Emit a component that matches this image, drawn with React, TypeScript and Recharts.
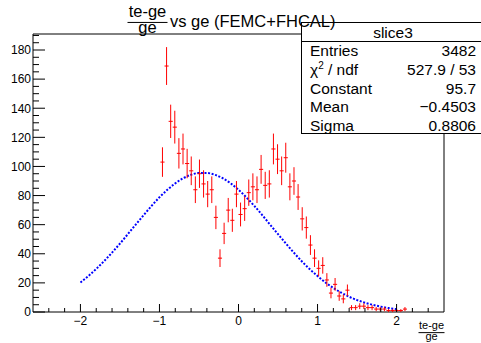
import React from "react";
import { ComposedChart, Scatter, Line, XAxis, YAxis, ErrorBar, ReferenceArea } from "recharts";

// histogram "slice3": bin centres (width 0.052) and contents
const binCenters = [
  -0.962, -0.91, -0.858, -0.806, -0.754, -0.702, -0.65, -0.598, -0.546, -0.494,
  -0.442, -0.39, -0.338, -0.286, -0.234, -0.182, -0.13, -0.078, -0.026, 0.026,
  0.078, 0.13, 0.182, 0.234, 0.286, 0.338, 0.39, 0.442, 0.494, 0.546,
  0.598, 0.65, 0.702, 0.754, 0.806, 0.858, 0.91, 0.962, 1.014, 1.066,
  1.118, 1.17, 1.222, 1.274, 1.326, 1.378, 1.43, 1.482, 1.534, 1.586,
  1.638, 1.69, 1.742, 1.794, 1.846, 1.898, 1.95, 2.002, 2.054, 2.106,
];
const counts = [
  103, 169, 131, 127, 109, 112, 102, 97, 84, 95,
  88, 81, 84, 65, 37, 54, 70, 63, 81, 67,
  71, 82, 86, 84, 98, 87, 88, 112, 105, 97,
  106, 86, 90, 79, 64, 58, 46, 37, 30, 32,
  22, 13, 19, 11, 9, 15, 3, 3, 4, 4,
  3, 3, 2, 2, 2, 1, 1, 1, 1, 2,
];
const binHalfWidth = 0.026;

// gaus fit curve as drawn (-2 .. 2)
const fitX = [
  -2, -1.9, -1.8, -1.7, -1.6, -1.5, -1.4, -1.3, -1.2, -1.1, -1, -0.9, -0.8, -0.7,
  -0.6, -0.5, -0.4, -0.3, -0.2, -0.1, 0, 0.1, 0.2, 0.3, 0.4, 0.5, 0.6, 0.7,
  0.8, 0.9, 1, 1.1, 1.2, 1.3, 1.4, 1.5, 1.6, 1.7, 1.8, 1.9, 2,
];
const fitY = [
  20.3, 24.7, 29.6, 35.0, 40.8, 47.0, 53.5, 60.1, 66.6, 72.9, 78.8, 84.0, 88.4, 91.9,
  94.3, 95.5, 95.5, 94.3, 91.9, 88.4, 84.0, 78.7, 72.9, 66.6, 60.0, 53.5, 47.0, 40.8,
  34.9, 29.5, 24.7, 20.3, 16.5, 13.3, 10.5, 8.2, 6.4, 4.9, 3.7, 2.7, 2.0,
];

const xTicks = [
  -2.4, -2.2, -2, -1.8, -1.6, -1.4, -1.2, -1, -0.8, -0.6, -0.4, -0.2, 0,
  0.2, 0.4, 0.6, 0.8, 1, 1.2, 1.4, 1.6, 1.8, 2, 2.2, 2.4,
];
const xMajorTicks = [-2, -1, 0, 1, 2];
const yTicks = [
  0, 5, 10, 15, 20, 25, 30, 35, 40, 45, 50, 55, 60, 65, 70, 75, 80, 85, 90, 95,
  100, 105, 110, 115, 120, 125, 130, 135, 140, 145, 150, 155, 160, 165, 170, 175, 180, 185, 190,
];
const yMajorTicks = [0, 20, 40, 60, 80, 100, 120, 140, 160, 180];

const statLabels = ["Entries", "chi2", "Constant", "Mean", "Sigma"];
const statValues = ["3482", "527.9 / 53", "95.7", "\u22120.4503", "0.8806"];

const FONT = '"Liberation Sans", Arial, Helvetica, sans-serif';
const W = 481;
const H = 343;
const PLOT = { left: 33, right: 444, top: 34, bottom: 312 };

const histData = binCenters.map((x, i) => ({
  x,
  y: counts[i],
  err: Math.sqrt(counts[i]),
  xerr: binHalfWidth,
}));
const fitData = fitX.map((x, i) => ({ x, y: fitY[i] }));

const fmt = (v: number) => (v < 0 ? `\u2212${Math.abs(v)}` : `${v}`);

const XTick = (props: any) => {
  const { x, payload } = props;
  const v = payload.value;
  const major = xMajorTicks.includes(v);
  return (
    <g>
      <line x1={x} x2={x} y1={PLOT.bottom} y2={PLOT.bottom - (major ? 8 : 4)} stroke="#000" />
      {major && (
        <text x={x} y={325} textAnchor="middle" fontSize={12} fontFamily={FONT} fill="#000">
          {fmt(v)}
        </text>
      )}
    </g>
  );
};

const YTick = (props: any) => {
  const { y, payload } = props;
  const v = payload.value;
  const major = yMajorTicks.includes(v);
  return (
    <g>
      <line x1={PLOT.left} x2={PLOT.left + (major ? 12 : 6)} y1={y} y2={y} stroke="#000" />
      {major && (
        <text x={PLOT.left - 2} y={y} dy={4.3} textAnchor="end" fontSize={12} fontFamily={FONT} fill="#000">
          {v}
        </text>
      )}
    </g>
  );
};

const Frac = ({ x, y, num, den, size, w }: { x: number; y: number; num: string; den: string; size: number; w: number }) => (
  <g fontSize={size}>
    <text x={x} y={y} textAnchor="middle">{num}</text>
    <line x1={x - w / 2} x2={x + w / 2} y1={y + size * 0.33} y2={y + size * 0.33} stroke="#000" strokeWidth={1} />
    <text x={x} y={y + size * 0.97} textAnchor="middle">{den}</text>
  </g>
);

const Overlay = () => (
  <svg
    width={W}
    height={H}
    style={{ position: "absolute", left: 0, top: 0, pointerEvents: "none" }}
    fontFamily={FONT}
    fill="#000"
  >
    {/* stats box */}
    <rect x={301.5} y={22.5} width={190} height={111} fill="#fff" stroke="#000" strokeWidth={1} />
    <line x1={301.5} x2={481} y1={41.5} y2={41.5} stroke="#000" strokeWidth={1} />
    <text x={393} y={37.5} textAnchor="middle" fontSize={15.5}>slice3</text>
    {statLabels.map((lab, i) => {
      const y = 56 + i * 18.8;
      return (
        <g key={lab} fontSize={15.5}>
          {lab === "chi2" ? (
            <text x={310} y={y}>
              <tspan>{"\u03c7"}</tspan>
              <tspan dy={-6} fontSize={10}>2</tspan>
              <tspan dy={6}>{" / ndf"}</tspan>
            </text>
          ) : (
            <text x={310} y={y}>{lab}</text>
          )}
          <text x={476} y={y} textAnchor="end">{statValues[i]}</text>
        </g>
      );
    })}
    {/* title */}
    <Frac x={147.5} y={17} num="te-ge" den="ge" size={16.5} w={40} />
    <text x={170} y={26.5} fontSize={16.5}>vs ge (FEMC+FHCAL)</text>
    {/* x axis title */}
    <Frac x={431.5} y={329} num="te-ge" den="ge" size={11} w={26} />
  </svg>
);

export default function App() {
  return (
    <div style={{ position: "absolute", left: 0, top: 0, width: W, height: H, background: "#fff" }}>
      <ComposedChart
        width={W}
        height={H}
        margin={{ top: PLOT.top, right: W - PLOT.right, bottom: 0, left: 0 }}
      >
        <XAxis
          dataKey="x"
          type="number"
          domain={[-2.6, 2.6]}
          ticks={xTicks}
          interval={0}
          height={H - PLOT.bottom}
          axisLine={false}
          tickLine={false}
          tick={<XTick />}
          allowDataOverflow
        />
        <YAxis
          type="number"
          domain={[0, 191]}
          ticks={yTicks}
          interval={0}
          width={PLOT.left}
          axisLine={false}
          tickLine={false}
          tick={<YTick />}
          allowDataOverflow
        />
        <ReferenceArea x1={-2.6} x2={2.6} y1={0} y2={191} fill="none" stroke="#000" strokeWidth={1} ifOverflow="visible" />
        <Line
          data={fitData}
          dataKey="y"
          type="monotone"
          stroke="#0000ff"
          strokeWidth={2}
          strokeDasharray="2 1.6"
          dot={false}
          isAnimationActive={false}
        />
        <Scatter data={histData} dataKey="y" shape={() => <g />} isAnimationActive={false}>
          <ErrorBar dataKey="err" direction="y" width={0} stroke="#ff0000" strokeWidth={1} isAnimationActive={false} />
          <ErrorBar dataKey="xerr" direction="x" width={0} stroke="#ff0000" strokeWidth={1} isAnimationActive={false} />
        </Scatter>
      </ComposedChart>
      <Overlay />
    </div>
  );
}
